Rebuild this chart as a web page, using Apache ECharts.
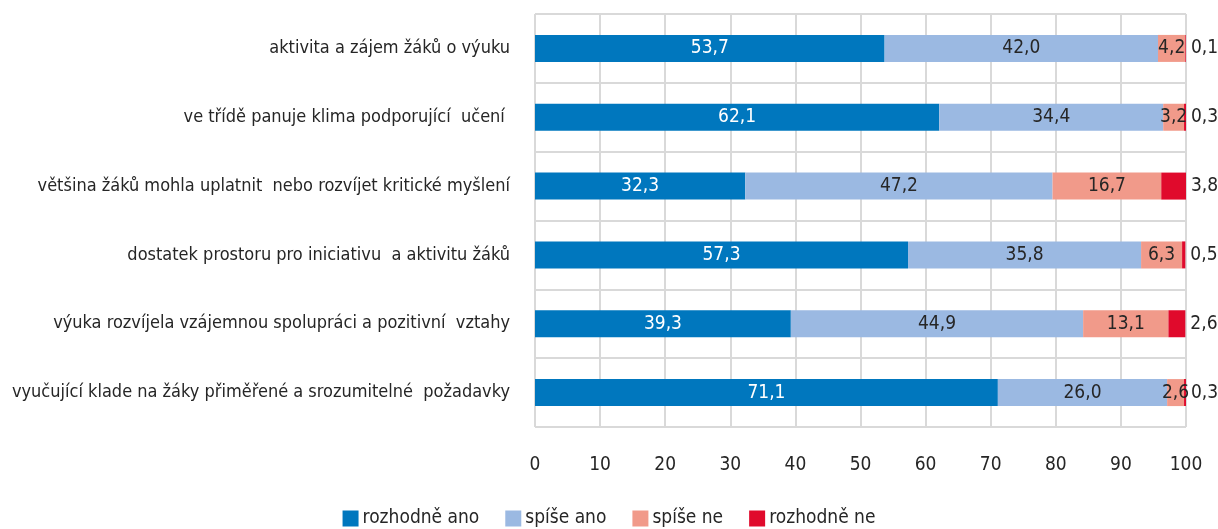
<!DOCTYPE html>
<html>
<head>
<meta charset="utf-8">
<script src="https://cdn.jsdelivr.net/npm/echarts@6/dist/echarts.min.js"></script>
<style>
  html, body { margin: 0; padding: 0; background: #fff; }
  #chart { width: 1218px; height: 529px; }
</style>
</head>
<body>
<div id="chart"></div>
<script>
// kategorie (shora dolů)
const categories = [
  "aktivita a zájem žáků o výuku",
  "ve třídě panuje klima podporující  učení ",
  "většina žáků mohla uplatnit  nebo rozvíjet kritické myšlení",
  "dostatek prostoru pro iniciativu  a aktivitu žáků",
  "výuka rozvíjela vzájemnou spolupráci a pozitivní  vztahy",
  "vyučující klade na žáky přiměřené a srozumitelné  požadavky"
];
const seriesNames = ["rozhodně ano", "spíše ano", "spíše ne", "rozhodně ne"];
const rozhodneAno = [53.7, 62.1, 32.3, 57.3, 39.3, 71.1];
const spiseAno = [42.0, 34.4, 47.2, 35.8, 44.9, 26.0];
const spiseNe = [4.2, 3.2, 16.7, 6.3, 13.1, 2.6];
const rozhodneNe = [0.1, 0.3, 3.8, 0.5, 2.6, 0.3];
const xTicks = [0, 10, 20, 30, 40, 50, 60, 70, 80, 90, 100];

const colors = ["#0077be", "#9bb9e2", "#f19a8a", "#e00a2c"];
const font = "'Liberation Sans Narrow', 'DejaVu Sans Condensed', sans-serif";
const fmt = (p) => p.value.toFixed(1).replace(".", ",");

let chart = echarts.init(document.getElementById("chart"));

function makeSeries(name, data, i) {
  return {
    name: name,
    type: "bar",
    stack: "total",
    data: data,
    barWidth: 27,
    itemStyle: { color: colors[i] },
    label: {
      show: true,
      position: i === 3 ? "right" : "inside",
      distance: 5,
      formatter: fmt,
      color: i === 0 ? "#ffffff" : "#262626",
      fontFamily: font,
      fontSize: 19
    }
  };
}

chart.setOption({
  animation: false,
  textStyle: { fontFamily: font },
  grid: {
    left: 535,
    right: 32,
    top: 14,
    bottom: 102,
    outerBoundsMode: "none",
    containLabel: false
  },
  legend: {
    bottom: -4,
    left: "center",
    icon: "rect",
    itemWidth: 16,
    itemHeight: 16,
    itemGap: 26,
    textStyle: { fontFamily: font, fontSize: 19, color: "#262626", padding: [0, 0, 0, -1] },
    data: seriesNames
  },
  xAxis: {
    type: "value",
    min: xTicks[0],
    max: xTicks[xTicks.length - 1],
    interval: 10,
    axisLine: { show: false },
    axisTick: { show: false },
    splitLine: { lineStyle: { color: "#d9d9d9", width: 2 } },
    axisLabel: {
      margin: 29,
      color: "#262626",
      fontFamily: font,
      fontSize: 19
    }
  },
  yAxis: {
    type: "category",
    inverse: true,
    data: categories,
    axisLine: { show: false },
    axisTick: { show: false },
    splitLine: { show: true, lineStyle: { color: "#d9d9d9", width: 2 } },
    axisLabel: {
      margin: 25,
      color: "#262626",
      fontFamily: font,
      fontSize: 18
    }
  },
  series: [
    makeSeries(seriesNames[0], rozhodneAno, 0),
    makeSeries(seriesNames[1], spiseAno, 1),
    makeSeries(seriesNames[2], spiseNe, 2),
    makeSeries(seriesNames[3], rozhodneNe, 3)
  ]
});
</script>
</body>
</html>
